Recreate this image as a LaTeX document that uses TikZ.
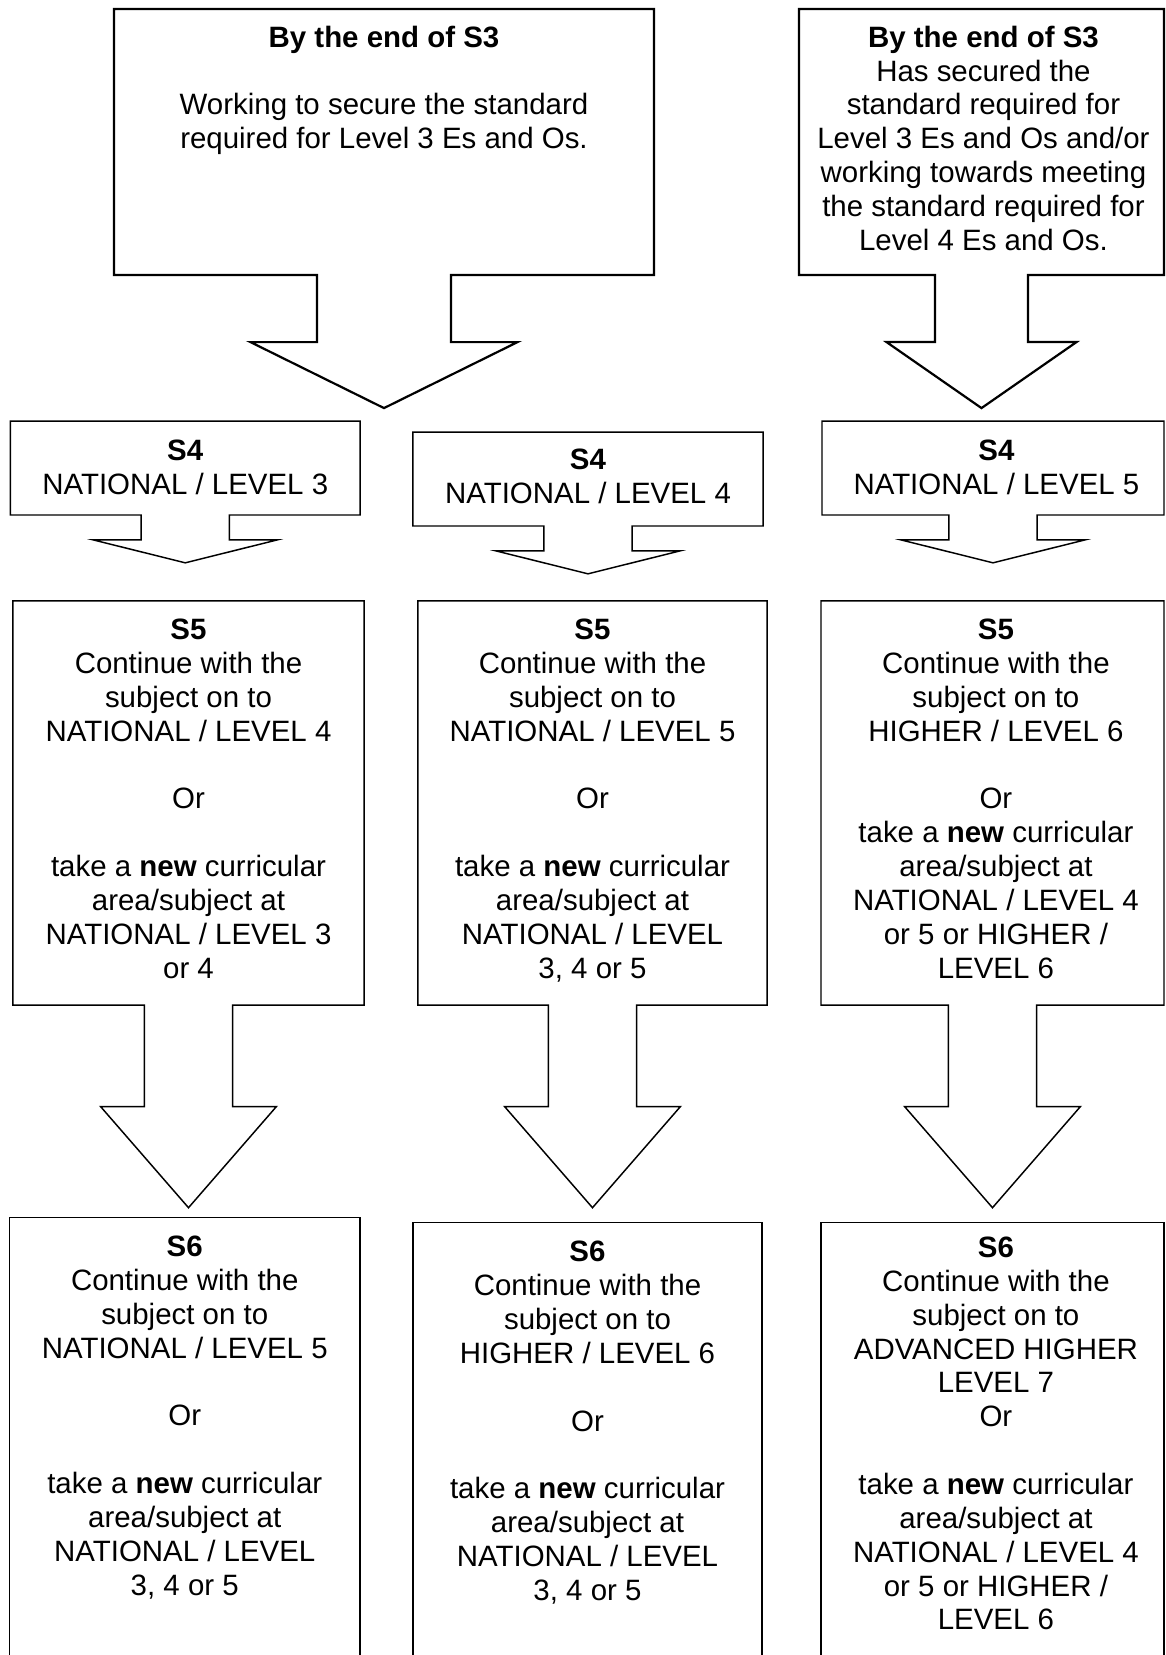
\documentclass[tikz,border=0pt]{standalone}
\usepackage{fontspec}
\setmainfont{Liberation Sans}
\usetikzlibrary{shapes.arrows,positioning}

\begin{document}
\begin{tikzpicture}[x=0.4076pt,y=-0.4076pt,font=\fontsize{12}{13.8}\selectfont]
  \tikzstyle{stagebox}=[draw=black,line width=0.6pt,arrow box,inner sep=0pt,
    arrow box north arrow=-1pt,arrow box east arrow=-1pt,arrow box west arrow=-1pt]
  \tikzstyle{txt}=[align=center,inner sep=0pt]
  \tikzstyle{row4}=[stagebox,minimum height=38.3pt,arrow box shaft width=35.9pt,
    arrow box head extend=19.6pt,arrow box tip angle=152,arrow box south arrow=19.2pt]
  \tikzstyle{row5}=[stagebox,minimum height=164.7pt,arrow box shaft width=35.9pt,
    arrow box head extend=17.9pt,arrow box tip angle=82,arrow box south arrow=82.3pt]
  \tikzstyle{row6}=[draw=black,line width=0.6pt,rectangle,inner sep=0pt,minimum height=196.9pt]

  \useasboundingbox (0,0) rectangle (1166,1655);
  \clip (0,0) rectangle (1166,1655);

  % S3
  \node[stagebox,line width=0.9pt,minimum width=220.1pt,minimum height=108.4pt,
    arrow box shaft width=54.6pt,arrow box head extend=27.1pt,
    arrow box tip angle=127.4,arrow box south arrow=53.8pt] (s3a) at (384,142) {};
  \node[stagebox,line width=0.9pt,minimum width=148.8pt,minimum height=108.4pt,
    arrow box shaft width=37.9pt,arrow box head extend=19.8pt,
    arrow box tip angle=110.4,arrow box south arrow=53.8pt] (s3b) at (981.5,142) {};

  \node[txt,below=7.1pt of s3a.north] (t3a) {\textbf{By the end of S3}\\[13.8pt]
    Working to secure the standard\\required for Level 3 Es and Os.};
  \node[txt,below=7.1pt of s3b.north,xshift=0.8pt] (t3b) {\textbf{By the end of S3}\\Has secured the\\
    standard required for\\Level 3 Es and Os and/or\\working towards meeting\\
    the standard required for\\Level 4 Es and Os.};

  % S4
  \node[row4,minimum width=142.5pt] (s4a) at (185.25,468) {};
  \node[row4,minimum width=142.7pt] (s4b) at (588,479) {};
  \node[row4,minimum width=139.4pt] (s4c) at (993,468) {};

  \node[txt,below=7.7pt of s4a.north] (t4a) {\textbf{S4}\\NATIONAL / LEVEL 3};
  \node[txt,below=7.1pt of s4b.north] (t4b) {\textbf{S4}\\NATIONAL / LEVEL 4};
  \node[txt,below=7.7pt of s4c.north,xshift=1.4pt] (t4c) {\textbf{S4}\\NATIONAL / LEVEL 5};

  % S5
  \node[row5,minimum width=143.1pt] (s5a) at (188.5,803) {};
  \node[row5,minimum width=142.3pt] (s5b) at (592.5,803) {};
  \node[row5,minimum width=139.8pt] (s5c) at (992.5,803) {};

  \node[txt,below=7.5pt of s5a.north] (t5a) {\textbf{S5}\\Continue with the\\subject on to\\
    NATIONAL / LEVEL 4\\[13.8pt]Or\\[13.8pt]take a \textbf{new} curricular\\
    area/subject at\\NATIONAL / LEVEL 3\\or 4};
  \node[txt,below=7.5pt of s5b.north] (t5b) {\textbf{S5}\\Continue with the\\subject on to\\
    NATIONAL / LEVEL 5\\[13.8pt]Or\\[13.8pt]take a \textbf{new} curricular\\
    area/subject at\\NATIONAL / LEVEL\\3, 4 or 5};
  \node[txt,below=7.5pt of s5c.north,xshift=1.4pt] (t5c) {\textbf{S5}\\Continue with the\\subject on to\\
    HIGHER / LEVEL 6\\[13.8pt]Or\\take a \textbf{new} curricular\\
    area/subject at\\NATIONAL / LEVEL 4\\or 5 or HIGHER /\\LEVEL 6};

  % S6
  \node[row6,minimum width=142.9pt,anchor=north] (s6a) at (184.75,1217) {};
  \node[row6,minimum width=142.3pt,anchor=north] (s6b) at (587.5,1222) {};
  \node[row6,minimum width=139.8pt,anchor=north] (s6c) at (992.5,1222) {};

  \node[txt,below=7.5pt of s6a.north] (t6a) {\textbf{S6}\\Continue with the\\subject on to\\
    NATIONAL / LEVEL 5\\[13.8pt]Or\\[13.8pt]take a \textbf{new} curricular\\
    area/subject at\\NATIONAL / LEVEL\\3, 4 or 5};
  \node[txt,below=7.7pt of s6b.north] (t6b) {\textbf{S6}\\Continue with the\\subject on to\\
    HIGHER / LEVEL 6\\[13.8pt]Or\\[13.8pt]take a \textbf{new} curricular\\
    area/subject at\\NATIONAL / LEVEL\\3, 4 or 5};
  \node[txt,below=5.9pt of s6c.north,xshift=1.4pt] (t6c) {\textbf{S6}\\Continue with the\\subject on to\\
    ADVANCED HIGHER\\LEVEL 7\\Or\\[13.8pt]take a \textbf{new} curricular\\
    area/subject at\\NATIONAL / LEVEL 4\\or 5 or HIGHER /\\LEVEL 6};
\end{tikzpicture}
\end{document}
